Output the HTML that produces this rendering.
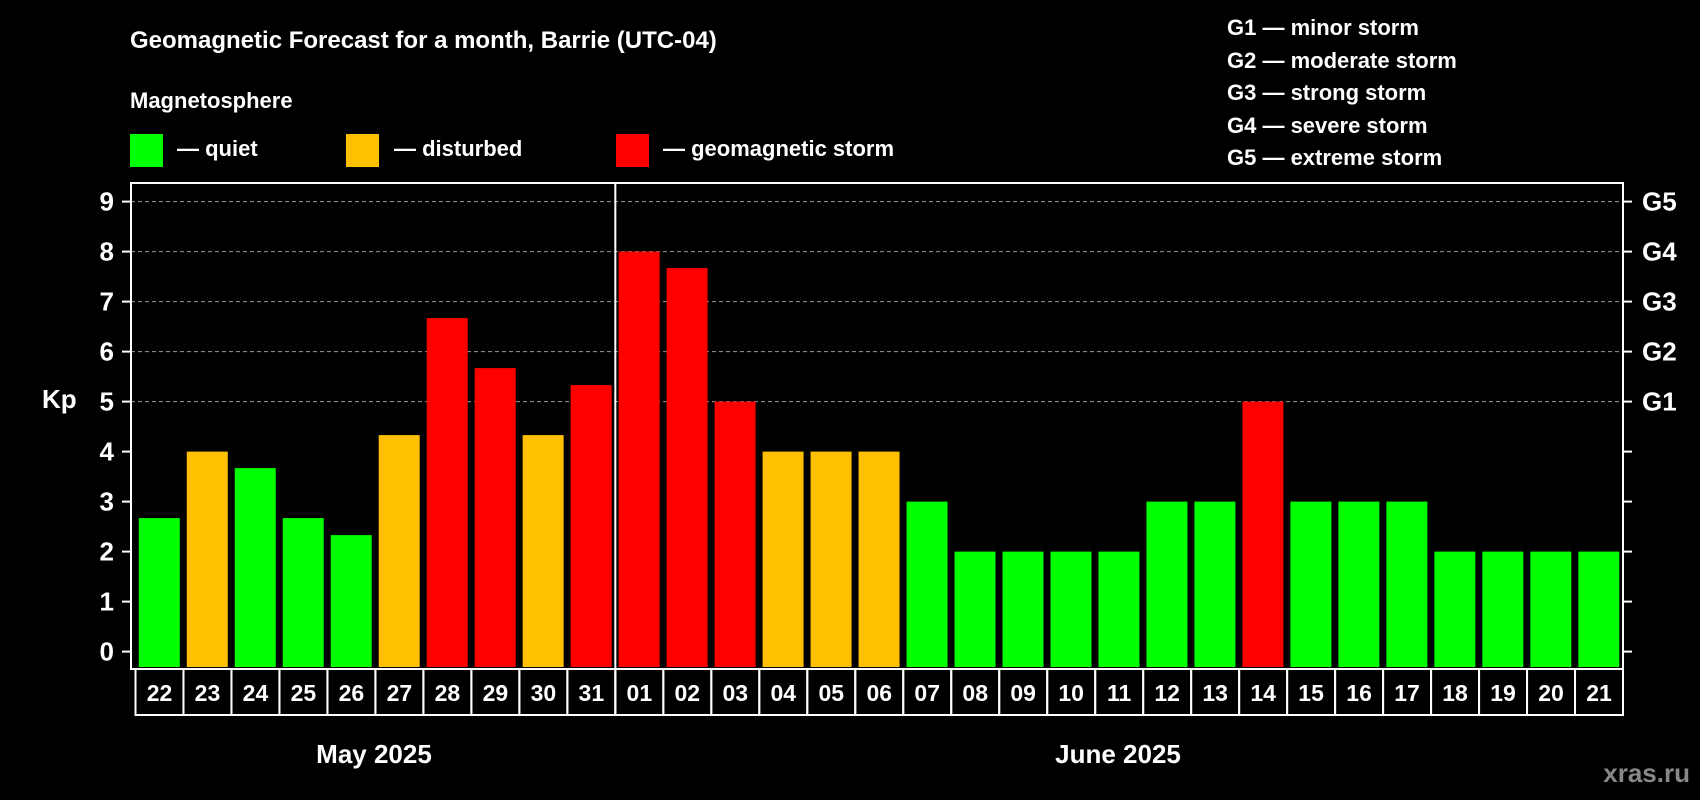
<!DOCTYPE html>
<html><head><meta charset="utf-8"><style>
html,body{margin:0;padding:0;background:#000;}
svg{display:block;font-family:"Liberation Sans",Arial,sans-serif;font-weight:bold;}
</style></head><body>
<svg id="chart" width="1700" height="800" viewBox="0 0 1700 800">
<rect width="1700" height="800" fill="#000"/>
<text x="130" y="48" fill="#fff" font-size="24">Geomagnetic Forecast for a month, Barrie (UTC-04)</text>
<text x="130" y="108" fill="#fff" font-size="22">Magnetosphere</text>
<rect x="130" y="134" width="33" height="33" fill="#00ff00"/>
<text x="177" y="156" fill="#fff" font-size="22">— quiet</text>
<rect x="346" y="134" width="33" height="33" fill="#ffc000"/>
<text x="394" y="156" fill="#fff" font-size="22">— disturbed</text>
<rect x="616" y="134" width="33" height="33" fill="#ff0000"/>
<text x="663" y="156" fill="#fff" font-size="22">— geomagnetic storm</text>
<g fill="#fff" font-size="22">
<text x="1227" y="35">G1 — minor storm</text>
<text x="1227" y="68">G2 — moderate storm</text>
<text x="1227" y="100">G3 — strong storm</text>
<text x="1227" y="133">G4 — severe storm</text>
<text x="1227" y="165">G5 — extreme storm</text>
</g>
<text x="42" y="408" fill="#fff" font-size="26">Kp</text>
<text x="374" y="763" fill="#fff" font-size="26" text-anchor="middle">May 2025</text>
<text x="1118" y="763" fill="#fff" font-size="26" text-anchor="middle">June 2025</text>
<text x="1690" y="782" fill="#888" font-size="26" text-anchor="end">xras.ru</text>
<g id="plot"></g>
</svg>
<script>
const days = ["22","23","24","25","26","27","28","29","30","31","01","02","03","04","05","06","07","08","09","10","11","12","13","14","15","16","17","18","19","20","21"];
const kpValues = [2.67,4,3.67,2.67,2.33,4.33,6.67,5.67,4.33,5.33,8,7.67,5,4,4,4,3,2,2,2,2,3,3,5,3,3,3,2,2,2,2];
const yTicks = [0,1,2,3,4,5,6,7,8,9];
const gLabels = ["G1","G2","G3","G4","G5"];
const gLevels = [5,6,7,8,9];
const monthBreak = 10;

const NS = "http://www.w3.org/2000/svg";
const g = document.getElementById("plot");
const L = 131, R = 1623, T = 183, B = 669, X0 = 135.5;
const slot = (R - X0) / days.length;
const y = v => 651.6 - v * 50.0;
const x = i => X0 + i * slot;
function mk(tag, attrs, text) {
  const e = document.createElementNS(NS, tag);
  for (const k in attrs) e.setAttribute(k, attrs[k]);
  if (text !== undefined) e.textContent = text;
  g.appendChild(e);
  return e;
}
function color(v) { return v >= 5 ? "#ff0000" : (v >= 4 ? "#ffc000" : "#00ff00"); }

yTicks.forEach(t => {
  if (t >= 5) {
    const gl = mk("line", {x1: L, x2: R, y1: y(t), y2: y(t), stroke: "#999", "stroke-width": 1, "stroke-dasharray": "4,3"});
    
    
  }
  const tk = mk("line", {x1: L - 9, x2: L, y1: y(t), y2: y(t), stroke: "#fff", "stroke-width": 2});
  
  
  const tr = mk("line", {x1: R, x2: R + 9, y1: y(t), y2: y(t), stroke: "#fff", "stroke-width": 2});
  
  
  const lb = mk("text", {x: 114, y: y(t) + 9, fill: "#fff", "font-size": 26, "text-anchor": "end"}, String(t));
  
  
});
gLabels.forEach((s, i) => {
  const lb = mk("text", {x: 1642, y: y(gLevels[i]) + 9, fill: "#fff", "font-size": 26}, s);
  
  
});
kpValues.forEach((v, i) => {
  const b = mk("rect", {x: x(i) + 3.3, y: y(v), width: slot - 7, height: B - 2 - y(v), fill: color(v)});
  
  
  const bx = mk("rect", {x: x(i), y: B, width: slot, height: 46, fill: "none", stroke: "#fff", "stroke-width": 2});
  
  
  const t = mk("text", {x: x(i) + slot / 2, y: B + 32, fill: "#fff", "font-size": 23, "text-anchor": "middle"}, days[i]);
  
  
});
const fr = mk("rect", {x: L, y: T, width: R - L, height: B - T, fill: "none", stroke: "#fff", "stroke-width": 2});


const vl = mk("line", {x1: x(monthBreak), x2: x(monthBreak), y1: T, y2: B + 46, stroke: "#fff", "stroke-width": 2});


</script>
</body></html>
